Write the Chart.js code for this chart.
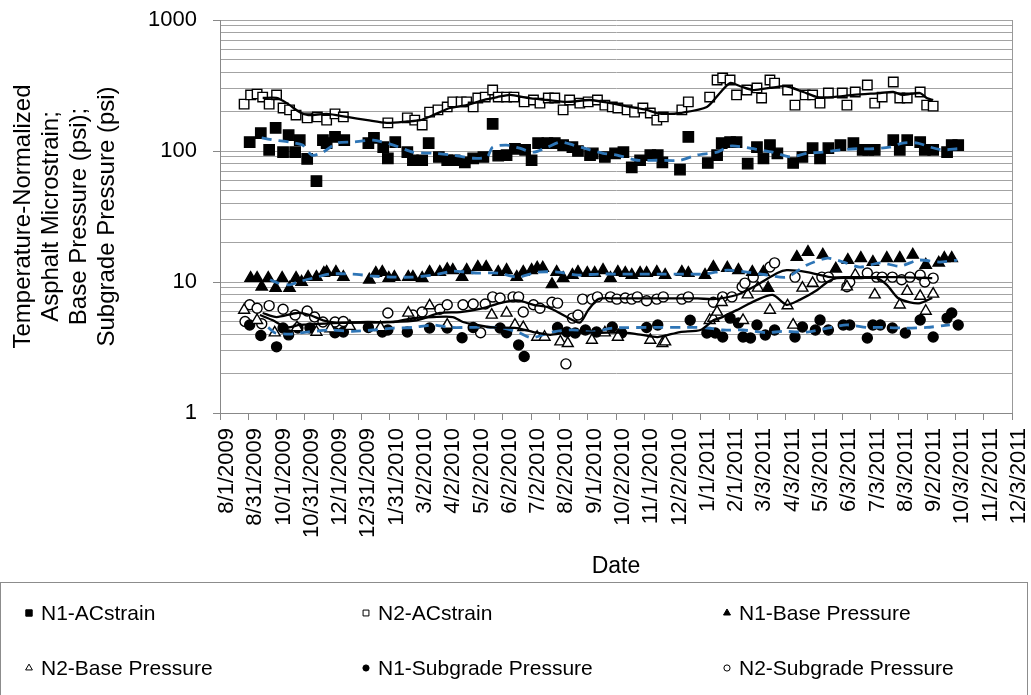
<!DOCTYPE html>
<html>
<head>
<meta charset="utf-8">
<script src="https://cdn.jsdelivr.net/npm/chart.js@4.4.1/dist/chart.umd.min.js"></script>
<style>
  html, body { margin: 0; padding: 0; background: #fff; }
  #chart { display: block; }
</style>
</head>
<body>
<canvas id="chart" width="1031" height="695"></canvas>
<script>
// x values are days since 8/1/2009 (first tick), ticks every 30.5 days
const tickStepDays = 30.5;
const xTickLabels = ['8/1/2009', '8/31/2009', '10/1/2009', '10/31/2009', '12/1/2009', '12/31/2009',
  '1/31/2010', '3/2/2010', '4/2/2010', '5/2/2010', '6/2/2010', '7/2/2010', '8/2/2010', '9/1/2010',
  '10/2/2010', '11/1/2010', '12/2/2010', '1/1/2011', '2/1/2011', '3/3/2011', '4/3/2011', '5/3/2011',
  '6/3/2011', '7/3/2011', '8/3/2011', '9/2/2011', '10/3/2011', '11/2/2011', '12/3/2011'];
const yDecades = [1, 10, 100, 1000];

const seriesNames = ['N1-ACstrain', 'N2-ACstrain', 'N1-Base Pressure',
  'N2-Base Pressure', 'N1-Subgrade Pressure', 'N2-Subgrade Pressure'];

// [day, value]
const n1AcStrain = [[32,117],[44,137],[53,102],[60,150],[68,98],[74,132],[81,98],[86,121],[94,87],[104,59],[111,121],[115,115],[124,128],[134,121],[160,115],[166,126],[176,107],[181,88],[189,117],[202,98],[208,85],[218,85],[225,115],[236,90],[245,85],[253,85],[264,82],[273,88],[284,90],[294,161],[300,92],[309,93],[318,104],[329,102],[336,85],[343,115],[353,115],[361,115],[370,111],[380,107],[386,100],[399,93],[402,96],[415,90],[426,96],[435,98],[444,75],[453,85],[464,93],[472,93],[477,82],[496,72],[505,128],[526,81],[536,93],[541,115],[550,117],[557,117],[569,80],[579,107],[586,88],[593,111],[601,96],[618,81],[628,90],[639,105],[647,88],[656,105],[669,111],[683,115],[693,102],[699,102],[706,102],[726,121],[733,102],[741,121],[755,117],[760,102],[769,102],[784,98],[789,111],[796,111]];
const n2AcStrain = [[26,228],[33,268],[40,272],[46,258],[53,228],[61,268],[68,213],[75,206],[82,188],[94,179],[105,182],[115,172],[124,192],[133,182],[181,164],[202,179],[210,172],[218,158],[226,198],[235,206],[245,217],[251,237],[260,237],[266,237],[273,217],[278,254],[286,258],[294,292],[300,258],[309,258],[317,258],[328,237],[338,245],[345,232],[354,254],[361,254],[370,206],[377,245],[388,232],[397,237],[407,245],[415,224],[423,217],[429,213],[439,206],[447,198],[456,213],[464,195],[471,172],[478,182],[498,206],[505,237],[528,258],[536,348],[542,361],[550,348],[557,268],[568,292],[579,303],[584,254],[593,348],[598,330],[612,292],[620,224],[631,268],[639,268],[647,232],[656,277],[671,277],[676,224],[685,282],[698,319],[706,232],[714,258],[726,336],[733,254],[741,254],[755,282],[762,224],[769,220]];
const n1BasePressure = [[33,10.7],[40,10.7],[45,9.2],[52,10.7],[60,9.0],[67,10.7],[75,9.0],[82,10.7],[88,10.0],[95,10.9],[104,10.9],[112,11.7],[115,11.9],[125,11.9],[133,10.9],[161,10.4],[168,11.7],[175,11.9],[182,10.7],[188,10.9],[203,10.9],[208,10.9],[218,10.7],[226,11.9],[237,11.9],[245,12.5],[251,12.3],[261,10.9],[266,12.3],[278,13.0],[287,13.0],[300,11.9],[309,12.3],[320,10.9],[327,11.9],[336,12.3],[342,12.8],[348,12.8],[358,9.6],[363,11.9],[370,10.7],[380,11.3],[386,11.9],[396,11.7],[404,11.7],[413,12.3],[421,10.7],[429,11.9],[437,11.7],[444,11.3],[453,11.7],[460,11.7],[471,11.9],[480,11.3],[498,11.9],[505,11.7],[523,11.3],[532,13.0],[547,12.8],[559,12.3],[574,11.9],[586,11.9],[591,9.0],[622,15.5],[634,16.9],[650,16.1],[664,12.6],[677,14.7],[691,15.2],[704,14.2],[719,15.2],[733,15.2],[747,16.1],[761,13.5],[775,14.0],[781,15.2],[789,15.2]];
const n2BasePressure = [[26,6.1],[40,5.1],[59,4.1],[83,4.5],[104,4.15],[119,4.4],[140,4.6],[173,4.5],[203,5.8],[226,6.6],[245,4.7],[293,5.6],[309,5.8],[318,4.7],[327,4.5],[342,3.8],[350,3.8],[367,3.5],[375,3.4],[401,3.6],[415,4.1],[429,3.8],[464,3.6],[477,3.4],[480,3.5],[528,5.1],[532,5.3],[536,5.9],[541,7.0],[564,5.1],[569,8.0],[580,9.0],[593,6.1],[612,6.6],[618,4.7],[628,9.0],[639,9.8],[676,9.2],[685,11.3],[706,8.0],[733,6.7],[741,8.5],[755,7.8],[761,6.0],[769,8.1]];
const n1Subgrade = [[32,4.7],[44,3.9],[61,3.2],[68,4.45],[74,3.95],[84,4.45],[97,4.45],[124,4.1],[133,4.15],[160,4.5],[175,4.15],[181,4.3],[202,4.15],[226,4.45],[245,4.45],[261,3.75],[273,4.5],[302,4.45],[309,4.1],[322,3.3],[328,2.7],[364,4.5],[374,4.15],[383,4.08],[394,4.3],[406,4.15],[423,4.53],[433,4.08],[460,4.5],[472,4.7],[507,5.1],[525,4.08],[534,4.08],[542,3.8],[550,5.3],[559,4.86],[564,3.8],[572,3.74],[579,4.7],[588,3.94],[598,4.3],[620,3.8],[628,4.53],[642,4.3],[647,5.13],[656,4.3],[672,4.7],[679,4.7],[698,3.74],[704,4.7],[712,4.7],[725,4.45],[739,4.08],[755,5.13],[769,3.8],[784,5.3],[789,5.8],[796,4.7]];
const n2Subgrade = [[27,5.0],[32,6.7],[40,6.3],[45,4.8],[53,6.6],[68,6.2],[81,5.6],[94,6.0],[102,5.4],[111,4.95],[124,4.95],[133,5.0],[181,5.8],[208,5.6],[218,5.9],[237,6.2],[245,6.7],[262,6.7],[273,6.8],[281,4.1],[286,6.8],[294,7.7],[302,7.55],[316,7.7],[322,7.7],[327,5.9],[338,6.7],[345,6.3],[358,7.0],[364,6.9],[373,2.37],[380,5.3],[386,5.6],[391,7.4],[401,7.4],[407,7.7],[421,7.7],[428,7.4],[437,7.55],[444,7.4],[450,7.7],[460,7.2],[471,7.4],[478,7.7],[498,7.4],[505,7.7],[532,7.0],[542,7.7],[552,7.7],[563,9.2],[566,9.8],[575,10.9],[593,13.0],[598,14.0],[620,10.9],[649,10.9],[656,10.9],[676,9.2],[679,10.0],[698,11.7],[708,10.9],[714,10.9],[725,10.9],[735,10.4],[744,10.9],[755,11.3],[760,10.0],[769,10.7]];

// moving-average trend lines
const n1AcTrend = [[45,126],[59,121],[75,117],[89,111],[99,93],[111,98],[126,115],[143,117],[165,121],[187,111],[208,98],[230,96],[251,93],[273,88],[288,90],[294,107],[309,111],[323,105],[338,98],[353,107],[367,117],[381,111],[399,102],[413,96],[428,93],[450,85],[471,85],[496,85],[514,93],[536,98],[550,109],[564,107],[582,102],[596,98],[615,90],[633,96],[650,98],[669,102],[687,104],[704,104],[722,107],[736,115],[752,115],[766,107],[780,102],[795,104]];
const n2AcTrend = [[46,254],[61,254],[72,232],[86,198],[95,188],[115,192],[137,182],[159,172],[180,164],[202,168],[216,172],[230,188],[248,213],[266,224],[284,245],[299,258],[313,268],[331,254],[353,245],[374,237],[399,245],[421,232],[442,217],[460,206],[471,195],[482,192],[496,195],[525,217],[539,277],[550,330],[561,312],[575,292],[593,303],[611,312],[629,282],[644,258],[661,258],[683,268],[712,277],[726,282],[736,268],[755,277],[762,254],[769,245]];
const n1BaseTrend = [[54,10.4],[63,9.8],[75,9.5],[84,10.0],[100,10.7],[119,11.5],[143,11.5],[165,11.1],[187,10.9],[208,10.9],[230,11.3],[251,12.1],[266,11.9],[278,11.7],[300,11.7],[321,10.9],[343,11.9],[364,11.9],[386,11.3],[408,11.5],[433,11.5],[458,11.5],[480,11.5],[501,11.5],[523,11.5],[547,12.3],[568,11.9],[590,11.3],[611,10.9],[633,13.5],[655,15.2],[672,14.2],[690,13.0],[712,14.0],[733,13.2],[753,14.7],[776,14.2],[795,14.7]];
const n2BaseTrend = [[43,5.6],[57,5.1],[72,4.5],[86,4.7],[122,4.85],[159,4.95],[187,4.95],[208,5.3],[230,5.4],[251,5.4],[262,4.95],[277,4.7],[294,4.5],[320,4.45],[338,4.15],[356,3.95],[374,4.1],[410,4.1],[437,4.1],[455,3.95],[472,3.8],[496,4.15],[518,4.3],[532,5.1],[539,5.3],[557,6.1],[579,7.3],[596,7.96],[611,6.7],[625,7.3],[644,8.7],[655,10.0],[665,10.7],[690,10.7],[708,10.7],[719,9.5],[731,7.55],[744,7.0],[755,6.9],[768,7.55]];
const n1SubTrend = [[52,4.5],[59,4.1],[75,4.0],[94,4.15],[119,4.3],[143,4.2],[165,4.3],[187,4.45],[208,4.5],[230,4.7],[248,4.5],[300,4.5],[321,4.15],[336,3.75],[358,4.15],[380,4.3],[401,4.15],[423,4.45],[477,4.5],[499,4.5],[521,4.5],[542,4.3],[564,4.3],[590,4.1],[607,4.2],[633,4.15],[655,4.45],[676,4.7],[698,4.5],[714,4.5],[739,4.45],[762,4.5],[787,4.7]];
const n2SubTrend = [[46,5.8],[61,5.4],[83,5.8],[97,5.6],[111,5.1],[126,4.9],[148,4.9],[180,4.95],[212,5.1],[237,5.8],[259,5.9],[283,6.3],[302,6.9],[315,7.2],[323,7.2],[338,6.7],[354,6.4],[372,5.5],[388,4.9],[397,6.1],[408,7.4],[426,7.5],[480,7.5],[515,7.5],[532,7.4],[557,7.96],[579,9.5],[601,11.7],[611,12.3],[633,11.9],[658,10.9],[679,10.9],[730,10.9],[768,10.7]];

const FONT = '"Liberation Sans", Arial, sans-serif';
const BLUE = '#2e75b6';
const toXY = arr => arr.map(p => ({ x: p[0], y: p[1] }));
const isDecade = v => Math.abs(Math.log10(v) - Math.round(Math.log10(v))) < 1e-9;

function markers(label, data, style, filled, radius) {
    return {
        label: label,
        data: toXY(data),
        pointStyle: style,
        pointRadius: radius,
        pointBackgroundColor: filled ? '#000' : '#fff',
        pointBorderColor: '#000',
        pointBorderWidth: 1.4,
        showLine: false,
        order: 1
    };
}

function trend(data, dashed) {
    return {
        label: '',
        data: toXY(data),
        showLine: true,
        pointRadius: 0,
        borderColor: dashed ? BLUE : '#000',
        borderWidth: dashed ? 2.8 : 2.3,
        borderDash: dashed ? [10, 7] : [],
        tension: 0.25,
        fill: false,
        order: 0
    };
}

// draws the plot frame's right edge and the boxed legend under the chart
const frameAndLegend = {
    id: 'frameAndLegend',
    afterDraw(chart) {
        const ctx = chart.ctx;
        const area = chart.chartArea;
        ctx.save();
        ctx.strokeStyle = '#999';
        ctx.lineWidth = 1;
        ctx.beginPath();
        ctx.moveTo(Math.round(area.right) + 0.5, area.top);
        ctx.lineTo(Math.round(area.right) + 0.5, area.bottom);
        ctx.stroke();

        ctx.strokeStyle = '#8c8c8c';
        ctx.strokeRect(0.5, 582.5, 1027, 130);

        const cols = [29, 366, 727];
        const rows = [613, 668];
        ctx.font = '21px ' + FONT;
        ctx.textBaseline = 'middle';
        ctx.textAlign = 'left';
        for (let i = 0; i < seriesNames.length; i++) {
            const ds = chart.data.datasets[i];
            const x = cols[i % 3];
            const y = rows[Math.floor(i / 3)];
            ctx.fillStyle = ds.pointBackgroundColor;
            ctx.strokeStyle = '#000';
            ctx.lineWidth = 1;
            Chart.helpers.drawPoint(ctx, {
                pointStyle: ds.pointStyle,
                radius: ds.pointRadius * 0.62,
                rotation: 0,
                borderWidth: 1
            }, x, y);
            ctx.fillStyle = '#000';
            ctx.fillText(ds.label, x + 12, y + 1);
        }
        ctx.restore();
    }
};

Chart.defaults.font.family = FONT;
Chart.defaults.color = '#000';

new Chart(document.getElementById('chart'), {
    type: 'scatter',
    data: {
        datasets: [
            markers(seriesNames[0], n1AcStrain, 'rect', true, 7.3),
            markers(seriesNames[1], n2AcStrain, 'rect', false, 6.7),
            markers(seriesNames[2], n1BasePressure, 'triangle', true, 6.5),
            markers(seriesNames[3], n2BasePressure, 'triangle', false, 6.3),
            markers(seriesNames[4], n1Subgrade, 'circle', true, 5),
            markers(seriesNames[5], n2Subgrade, 'circle', false, 5),
            trend(n1AcTrend, true),
            trend(n2AcTrend, false),
            trend(n1BaseTrend, true),
            trend(n2BaseTrend, false),
            trend(n1SubTrend, true),
            trend(n2SubTrend, false)
        ]
    },
    options: {
        responsive: false,
        animation: false,
        layout: { padding: { top: 20, right: 19, bottom: 115, left: 0 } },
        plugins: {
            legend: { display: false },
            tooltip: { enabled: false }
        },
        scales: {
            x: {
                type: 'linear',
                min: 0,
                max: (xTickLabels.length - 1) * tickStepDays,
                afterBuildTicks: s => {
                    s.ticks = xTickLabels.map((_, i) => ({ value: i * tickStepDays }));
                },
                afterFit: s => {
                    s.height = 167;
                    s.paddingLeft = 0;
                    s.paddingRight = 0;
                },
                ticks: {
                    autoSkip: false,
                    minRotation: 90,
                    maxRotation: 90,
                    padding: 8,
                    labelOffset: 7,
                    font: { size: 22 },
                    callback: (v, i) => xTickLabels[i]
                },
                grid: { drawOnChartArea: false, tickLength: 7, color: '#888' },
                border: { color: '#888' },
                title: { display: true, text: 'Date', font: { size: 23 }, padding: { top: 0, bottom: 0 } }
            },
            y: {
                type: 'logarithmic',
                min: 1,
                max: 1000,
                afterBuildTicks: s => {
                    const t = [];
                    yDecades.forEach(d => {
                        if (d === 1000) { t.push({ value: d, major: true }); return; }
                        for (let k = 1; k <= 9; k++) t.push({ value: k * d, major: k === 1 });
                    });
                    s.ticks = t;
                },
                afterFit: s => {
                    s.width = 220;
                    s.paddingTop = 0;
                    s.paddingBottom = 0;
                },
                ticks: {
                    autoSkip: false,
                    padding: 16,
                    font: { size: 22 },
                    callback: v => isDecade(v) ? String(v) : ''
                },
                grid: {
                    color: '#a3a3a3',
                    lineWidth: 1,
                    tickLength: 7,
                    tickColor: c => (c.tick && isDecade(c.tick.value)) ? '#888' : 'rgba(0,0,0,0)'
                },
                border: { color: '#888' },
                title: {
                    display: true,
                    text: ['Temperature-Normalized', 'Asphalt Microstrain;', 'Base Pressure (psi);', 'Subgrade Pressure (psi)'],
                    font: { size: 24, lineHeight: 1.17 },
                    padding: { top: 9, bottom: 0 }
                }
            }
        }
    },
    plugins: [frameAndLegend]
});
</script>
</body>
</html>
